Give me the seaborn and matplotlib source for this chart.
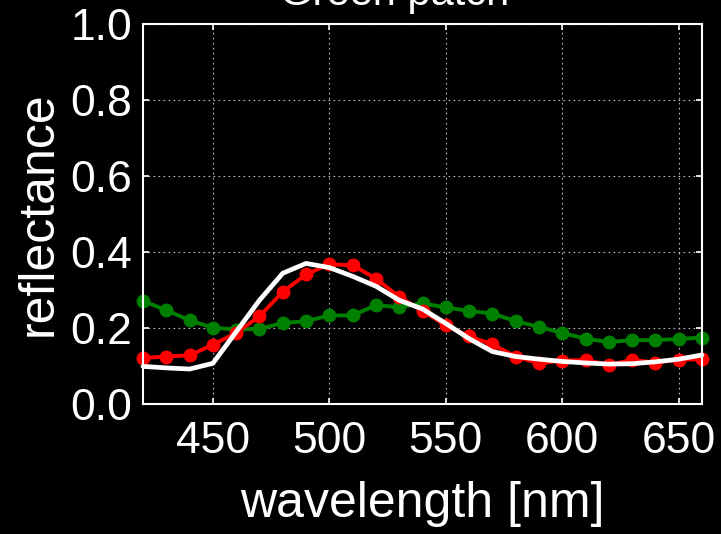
import matplotlib
matplotlib.use("Agg")
import matplotlib.pyplot as plt
import seaborn as sns

# Spectral reflectance of the green patch, sampled every 10 nm
wavelength = [420, 430, 440, 450, 460, 470, 480, 490, 500, 510, 520, 530, 540,
              550, 560, 570, 580, 590, 600, 610, 620, 630, 640, 650, 660]

green_refl = [0.271, 0.247, 0.220, 0.201, 0.196, 0.198, 0.213, 0.218, 0.233,
              0.233, 0.260, 0.255, 0.265, 0.254, 0.245, 0.238, 0.218, 0.203,
              0.187, 0.172, 0.163, 0.168, 0.168, 0.171, 0.175]

red_refl = [0.121, 0.125, 0.128, 0.156, 0.187, 0.231, 0.295, 0.341, 0.368,
            0.365, 0.330, 0.282, 0.245, 0.207, 0.178, 0.157, 0.125, 0.107,
            0.114, 0.116, 0.103, 0.116, 0.109, 0.116, 0.118]

white_refl = [0.099, 0.095, 0.092, 0.107, 0.190, 0.273, 0.344, 0.370, 0.359,
              0.336, 0.310, 0.273, 0.250, 0.212, 0.172, 0.138, 0.125, 0.118,
              0.112, 0.108, 0.105, 0.106, 0.111, 0.118, 0.129]

x_ticks = [450, 500, 550, 600, 650]
y_ticks = [0.0, 0.2, 0.4, 0.6, 0.8, 1.0]

sns.set_theme(style="dark", rc={
    "figure.facecolor": "black",
    "axes.facecolor": "black",
    "axes.edgecolor": "white",
    "axes.labelcolor": "white",
    "text.color": "white",
    "xtick.color": "white",
    "ytick.color": "white",
})
plt.rcParams["font.family"] = ["Liberation Sans", "DejaVu Sans"]

fig = plt.figure(figsize=(7.21, 5.34), dpi=100, facecolor="black")
ax = fig.add_axes([143 / 721, 1 - 404 / 534, 559 / 721, 380 / 534])
ax.set_facecolor("black")

common = dict(marker="o", markersize=10, markeredgewidth=0, linewidth=2.8,
              clip_on=False, ax=ax)
sns.lineplot(x=wavelength, y=green_refl, color="#008000", **common)
sns.lineplot(x=wavelength, y=red_refl, color="#ff0000", **common)
sns.lineplot(x=wavelength, y=white_refl, color="white", linewidth=3.4,
             clip_on=False, ax=ax)

ax.set_xlim(420, 660)
ax.set_ylim(0, 1)
ax.set_xticks(x_ticks)
ax.set_xticklabels([str(t) for t in x_ticks])
ax.set_yticks(y_ticks)
ax.set_yticklabels([f"{t:.1f}" for t in y_ticks])

ax.grid(True, color="#bbbbbb", linestyle=(0, (1.5, 3)), linewidth=0.8)
ax.tick_params(axis="both", which="major", direction="in", length=4.5,
               width=1.2, colors="white", labelsize=32,
               top=True, right=True, bottom=True, left=True)
ax.tick_params(axis="x", pad=12)
ax.tick_params(axis="y", pad=8)
for sp in ax.spines.values():
    sp.set_color("white")
    sp.set_linewidth(1.5)
    sp.set_visible(True)

ax.set_xlabel("wavelength [nm]", fontsize=36, labelpad=14)
ax.set_ylabel("reflectance", fontsize=36, labelpad=6)

fig.text(395 / 721, 1 - 5 / 534, "Green patch", fontsize=30, color="white",
         ha="center", va="baseline")

fig.savefig("out.png", dpi=100, facecolor="black")
